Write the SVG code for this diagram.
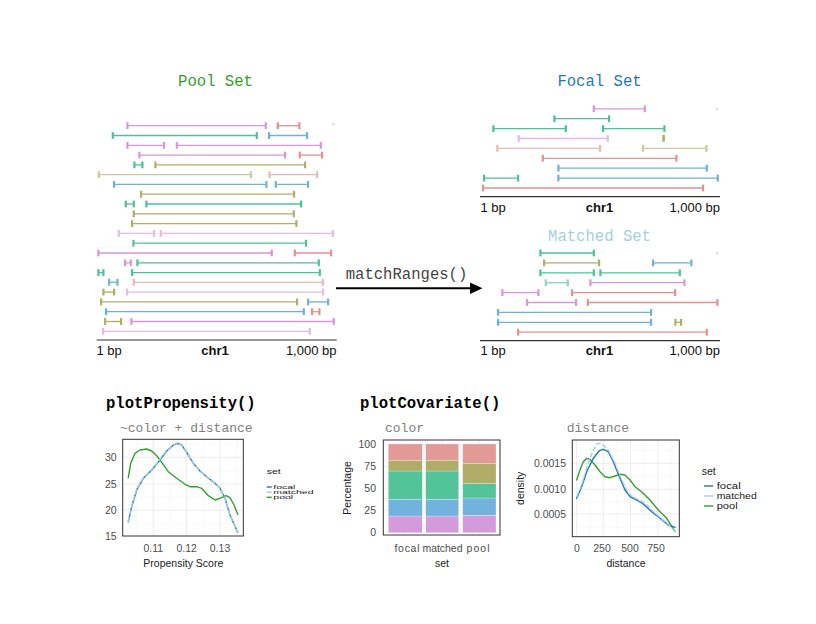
<svg xmlns="http://www.w3.org/2000/svg" width="816" height="624" viewBox="0 0 816 624">
<style>
.ttl{font-family:"Liberation Mono",monospace;font-size:15.6px}
.ttlb{font-family:"Liberation Mono",monospace;font-size:15.6px;font-weight:bold;fill:#000}
.sub{font-family:"Liberation Mono",monospace;font-size:13px;fill:#7f7f7f}
.ax{font-family:"Liberation Sans",Arial,sans-serif;font-size:13px;fill:#111}
.tk{font-family:"Liberation Sans",Arial,sans-serif;font-size:10.5px;fill:#4d4d4d}
.at{font-family:"Liberation Sans",Arial,sans-serif;font-size:10.5px;fill:#1a1a1a}
.lg{font-family:"Liberation Sans",Arial,sans-serif;font-size:10.5px;fill:#1a1a1a}
.lg2{font-family:"Liberation Sans",Arial,sans-serif;font-size:9.4px;fill:#1a1a1a}
.seg{fill:none;stroke-width:1.3}
.r{stroke:#e5918d}.o{stroke:#b2ae66}.g{stroke:#4fc097}.b{stroke:#6db2dd}.p{stroke:#d597da}
.r{marker-start:url(#cr);marker-end:url(#cr)}
.o{marker-start:url(#co);marker-end:url(#co)}
.g{marker-start:url(#cg);marker-end:url(#cg)}
.b{marker-start:url(#cb);marker-end:url(#cb)}
.p{marker-start:url(#cp);marker-end:url(#cp)}
.lt{opacity:0.65}
.axl{stroke:#333;stroke-width:1.2}
.gmaj{stroke:#ebebeb;stroke-width:0.9}
.gmin{stroke:#f5f5f5;stroke-width:0.6}
.pan{fill:none;stroke:#333;stroke-width:1}
.cur{fill:none;stroke-width:1.4;stroke-linejoin:round;stroke-linecap:round}
.fo{stroke:#1f78b4}.ma{stroke:#a6cee3;stroke-dasharray:4 3}.po{stroke:#33a02c}
.fr{fill:#e29a97}.fo2{fill:#b1ac68}.fg{fill:#52c39b}.fb{fill:#70b3dd}.fp{fill:#d39bd9}
.bar rect{stroke:#ffffff;stroke-opacity:0.5;stroke-width:0.5}
.plus{stroke:#c8c8c8;stroke-width:0.6}
</style>
<defs>
<marker id="cr" markerUnits="userSpaceOnUse" viewBox="0 0 4 8" markerWidth="4" markerHeight="8" refX="2" refY="4" orient="0"><rect x="1" y="0.6" width="2.2" height="6.8" fill="#e5918d"/></marker>
<marker id="co" markerUnits="userSpaceOnUse" viewBox="0 0 4 8" markerWidth="4" markerHeight="8" refX="2" refY="4" orient="0"><rect x="1" y="0.6" width="2.2" height="6.8" fill="#b2ae66"/></marker>
<marker id="cg" markerUnits="userSpaceOnUse" viewBox="0 0 4 8" markerWidth="4" markerHeight="8" refX="2" refY="4" orient="0"><rect x="1" y="0.6" width="2.2" height="6.8" fill="#4fc097"/></marker>
<marker id="cb" markerUnits="userSpaceOnUse" viewBox="0 0 4 8" markerWidth="4" markerHeight="8" refX="2" refY="4" orient="0"><rect x="1" y="0.6" width="2.2" height="6.8" fill="#6db2dd"/></marker>
<marker id="cp" markerUnits="userSpaceOnUse" viewBox="0 0 4 8" markerWidth="4" markerHeight="8" refX="2" refY="4" orient="0"><rect x="1" y="0.6" width="2.2" height="6.8" fill="#d597da"/></marker>
</defs>
<rect width="816" height="624" fill="#ffffff"/>

<g id="pool-set">
<text class="ttl" x="215.5" y="86" text-anchor="middle" fill="#33a02c">Pool Set</text>
<path class="plus" d="M331.8 124.3H334.8M333.3 122.8V125.8"/>
<g class="seg">
<path class="p" d="M127.3 125.7H265.7"/><path class="r" d="M277.7 125.7H299.3"/>
<path class="g" d="M112.7 135.5H256.7"/><path class="b" d="M269 135.5H307"/>
<path class="p" d="M127.3 145.3H164"/><path class="p" d="M176.7 145.3H320.7"/>
<path class="p" d="M139.3 155.1H285"/><path class="r" d="M299.7 155.1H322"/>
<path class="g" d="M134.3 164.9H142.3"/><path class="o" d="M155.3 164.9H305"/>
<path class="o lt" d="M98.7 174.7H250.7"/><path class="r lt" d="M269.3 174.7H317"/>
<path class="b" d="M114 184.4H266.3"/><path class="b" d="M275.7 184.4H308"/>
<path class="o" d="M141 194.2H294"/>
<path class="g" d="M125.7 204H133.7"/><path class="g" d="M146.3 204H301"/>
<path class="o" d="M133.7 213.8H293.7"/>
<path class="o" d="M132 223.6H296.3"/>
<path class="p lt" d="M118.7 233.4H154"/><path class="p lt" d="M160.7 233.4H332.7"/>
<path class="g" d="M133.3 243.2H306"/>
<path class="p" d="M98.3 253H271.7"/><path class="r" d="M294.7 253H331"/>
<path class="p" d="M125 262.8H130.7"/><path class="g" d="M137.3 262.8H318.7"/>
<path class="g" d="M98.3 272.6H103.3"/><path class="g" d="M132 272.6H319.7"/>
<path class="b" d="M109 282.3H117.3"/><path class="r lt" d="M133.7 282.3H322.7"/>
<path class="o" d="M103.3 292.1H114"/><path class="p lt" d="M127 292.1H323"/>
<path class="o" d="M101 301.9H297"/><path class="b" d="M308 301.9H328"/>
<path class="b" d="M106 311.7H303.7"/><path class="r" d="M312 311.7H319.3"/>
<path class="o" d="M105 321.5H121"/><path class="p" d="M131.3 321.5H333.7"/>
<path class="p lt" d="M103 331.3H309.7"/>
</g>
<line class="axl" x1="96.7" y1="340" x2="336.7" y2="340"/>
<text class="ax" x="96.5" y="354.5">1 bp</text>
<text class="ax" x="215" y="354.5" text-anchor="middle" font-weight="bold">chr1</text>
<text class="ax" x="336.5" y="354.5" text-anchor="end">1,000 bp</text>
</g>

<g id="focal-set">
<text class="ttl" x="599.5" y="86" text-anchor="middle" fill="#1f78b4">Focal Set</text>
<path class="plus" d="M715.5 109H718.5M717 107.5V110.5"/>
<g class="seg">
<path class="p" d="M593.7 108.8H644.7"/>
<path class="g" d="M554.3 118.7H609"/>
<path class="g" d="M493.3 128.6H565.7"/><path class="g" d="M603 128.6H664.3"/>
<path class="p lt" d="M518.7 138.5H607.7"/>
<path class="r lt" d="M497.3 148.4H600"/><path class="o lt" d="M643 148.4H706.3"/>
<path class="r" d="M542.7 158.3H676.3"/>
<path class="b" d="M558.3 168.2H706.7"/>
<path class="g" d="M484 178.1H518"/><path class="b" d="M558.3 178.1H717.7"/>
<path class="r" d="M483 188H703"/>
</g>
<rect x="662.3" y="134.8" width="2.6" height="7" fill="#b2ae66"/>
<line class="axl" x1="480" y1="196.7" x2="720" y2="196.7"/>
<text class="ax" x="480.5" y="211.5">1 bp</text>
<text class="ax" x="599.5" y="211.5" text-anchor="middle" font-weight="bold">chr1</text>
<text class="ax" x="720" y="211.5" text-anchor="end">1,000 bp</text>
</g>

<g id="matched-set">
<text class="ttl" x="599.5" y="240.5" text-anchor="middle" fill="#a6cee3">Matched Set</text>
<path class="plus" d="M715.8 253.3H718.8M717.3 251.8V254.8"/>
<g class="seg">
<path class="g" d="M540.3 253H593.7"/>
<path class="o" d="M544 262.9H599"/><path class="b" d="M653 262.9H691.3"/>
<path class="g" d="M540.3 272.8H593.7"/><path class="g" d="M600.3 272.8H679.7"/>
<path class="g lt" d="M545.7 282.7H567.7"/><path class="p" d="M590.3 282.7H684.3"/>
<path class="p" d="M502.3 292.6H538.3"/><path class="r" d="M572 292.6H675"/>
<path class="p" d="M527 302.5H576"/><path class="r" d="M587.7 302.5H717.3"/>
<path class="b" d="M498 312.4H651"/>
<path class="b" d="M498 322.3H651"/><path class="o" d="M675.3 322.3H681"/>
<path class="r" d="M518 332.2H706.7"/>
</g>
<line class="axl" x1="480" y1="340.7" x2="720" y2="340.7"/>
<text class="ax" x="480.5" y="354.5">1 bp</text>
<text class="ax" x="599.5" y="354.5" text-anchor="middle" font-weight="bold">chr1</text>
<text class="ax" x="720" y="354.5" text-anchor="end">1,000 bp</text>
</g>

<g id="connectors">
<line x1="336" y1="288.3" x2="472" y2="288.3" stroke="#000" stroke-width="2"/>
<polygon points="470,282.5 482.5,288.3 470,294.1" fill="#000"/>
<text class="ttl" x="406.5" y="278.5" text-anchor="middle" fill="#444">matchRanges()</text>
</g>

<g id="plot-propensity">
<text class="ttlb" x="106" y="408">plotPropensity()</text>
<text class="sub" x="120" y="432">~color + distance</text>
<g>
<line class="gmin" x1="122.7" y1="444.1" x2="243.3" y2="444.1"/>
<line class="gmin" x1="122.7" y1="470.7" x2="243.3" y2="470.7"/>
<line class="gmin" x1="122.7" y1="497.2" x2="243.3" y2="497.2"/>
<line class="gmin" x1="122.7" y1="523.3" x2="243.3" y2="523.3"/>
<line class="gmin" x1="136.7" y1="439.3" x2="136.7" y2="536"/>
<line class="gmin" x1="170" y1="439.3" x2="170" y2="536"/>
<line class="gmin" x1="203.3" y1="439.3" x2="203.3" y2="536"/>
<line class="gmin" x1="236.7" y1="439.3" x2="236.7" y2="536"/>
<line class="gmaj" x1="122.7" y1="457.3" x2="243.3" y2="457.3"/>
<line class="gmaj" x1="122.7" y1="484" x2="243.3" y2="484"/>
<line class="gmaj" x1="122.7" y1="510.3" x2="243.3" y2="510.3"/>
<line class="gmaj" x1="153.3" y1="439.3" x2="153.3" y2="536"/>
<line class="gmaj" x1="186.7" y1="439.3" x2="186.7" y2="536"/>
<line class="gmaj" x1="220" y1="439.3" x2="220" y2="536"/>
</g>
<polyline class="cur po" points="128.3,477.7 130.7,463.3 135,453.3 140,450 146.7,449 151.7,451 156.7,455.7 161.7,462.3 168.3,471.7 176.7,478.3 185,484.3 190,486.7 196.7,486.7 201.7,488.3 208.3,495.7 215,500 220,498.3 226,495.7 230,497.7 234,505 237.7,514.3"/>
<polyline class="cur fo" points="128.3,521.7 131.7,506.7 136.7,490 143.3,478.3 151.7,470 160,460 166.7,451 173.3,445 177.3,443.3 181.7,445 186.7,452.3 193.3,463.3 200,471 206.7,476.7 215,483.3 220,488.3 225,498.3 230,515 237.7,532.3"/>
<polyline class="cur ma" points="128.3,521 131.7,506 136.7,489.5 143.3,478 151.7,469.5 160,459.5 166.7,450.5 173.3,444.5 177.3,443 181.7,445 186.7,452.5 193.3,463.5 200,471 206.7,476.5 215,483 220,488.5 225,498.5 230,515 237.7,532"/>
<rect class="pan" x="122.7" y="439.3" width="120.6" height="96.7"/>
<text class="tk" x="116.7" y="461" text-anchor="end">30</text>
<text class="tk" x="116.7" y="487.8" text-anchor="end">25</text>
<text class="tk" x="116.7" y="514" text-anchor="end">20</text>
<text class="tk" x="116.7" y="540.3" text-anchor="end">15</text>
<text class="tk" x="153.3" y="552" text-anchor="middle">0.11</text>
<text class="tk" x="186.7" y="552" text-anchor="middle">0.12</text>
<text class="tk" x="220" y="552" text-anchor="middle">0.13</text>
<text class="at" x="183.3" y="566.5" text-anchor="middle">Propensity Score</text>
<text class="lg" transform="translate(266.7,473.5) scale(1,0.72)">set</text>
<line x1="266.7" y1="487" x2="271.7" y2="487" stroke="#1f78b4" stroke-width="1.4"/>
<line x1="266.7" y1="492.3" x2="271.7" y2="492.3" stroke="#a6cee3" stroke-width="1.4"/>
<line x1="266.7" y1="497.3" x2="271.7" y2="497.3" stroke="#33a02c" stroke-width="1.4"/>
<text class="lg" transform="translate(273.3,488.8) scale(1,0.56)">focal</text>
<text class="lg" transform="translate(273.3,494.1) scale(1,0.56)">matched</text>
<text class="lg" transform="translate(273.3,499.4) scale(1,0.56)">pool</text>
</g>

<g id="plot-covariate">
<text class="ttlb" x="360" y="408">plotCovariate()</text>
<text class="sub" x="385" y="432">color</text>
<g>
<line class="gmaj" x1="383.3" y1="444" x2="500" y2="444"/>
<line class="gmaj" x1="383.3" y1="466.2" x2="500" y2="466.2"/>
<line class="gmaj" x1="383.3" y1="488.4" x2="500" y2="488.4"/>
<line class="gmaj" x1="383.3" y1="510.5" x2="500" y2="510.5"/>
<line class="gmaj" x1="383.3" y1="532.7" x2="500" y2="532.7"/>
<line class="gmaj" x1="405.3" y1="440" x2="405.3" y2="535"/>
<line class="gmaj" x1="442.2" y1="440" x2="442.2" y2="535"/>
<line class="gmaj" x1="479.3" y1="440" x2="479.3" y2="535"/>
</g>
<g class="bar">
<rect class="fp" x="388.3" y="516" width="34" height="16.7"/>
<rect class="fb" x="388.3" y="499.3" width="34" height="16.7"/>
<rect class="fg" x="388.3" y="471" width="34" height="28.3"/>
<rect class="fo2" x="388.3" y="460.3" width="34" height="10.7"/>
<rect class="fr" x="388.3" y="444" width="34" height="16.3"/>
<rect class="fp" x="425.7" y="516" width="33" height="16.7"/>
<rect class="fb" x="425.7" y="499.3" width="33" height="16.7"/>
<rect class="fg" x="425.7" y="471" width="33" height="28.3"/>
<rect class="fo2" x="425.7" y="460.3" width="33" height="10.7"/>
<rect class="fr" x="425.7" y="444" width="33" height="16.3"/>
<rect class="fp" x="462.7" y="515.3" width="33.3" height="17.4"/>
<rect class="fb" x="462.7" y="498" width="33.3" height="17.3"/>
<rect class="fg" x="462.7" y="483.3" width="33.3" height="14.7"/>
<rect class="fo2" x="462.7" y="463.3" width="33.3" height="20"/>
<rect class="fr" x="462.7" y="444" width="33.3" height="19.3"/>
</g>
<rect class="pan" x="383.3" y="440" width="116.7" height="95"/>
<text class="tk" x="376" y="447.7" text-anchor="end">100</text>
<text class="tk" x="376" y="469.9" text-anchor="end">75</text>
<text class="tk" x="376" y="492.1" text-anchor="end">50</text>
<text class="tk" x="376" y="514.2" text-anchor="end">25</text>
<text class="tk" x="376" y="536.4" text-anchor="end">0</text>
<text class="tk" x="407" y="552" text-anchor="middle" textLength="25" lengthAdjust="spacing">focal</text>
<text class="tk" x="442.5" y="552" text-anchor="middle" textLength="40" lengthAdjust="spacing">matched</text>
<text class="tk" x="478" y="552" text-anchor="middle" textLength="23" lengthAdjust="spacing">pool</text>
<text class="at" x="442" y="566.5" text-anchor="middle">set</text>
<text class="at" transform="translate(351,488) rotate(-90)" text-anchor="middle">Percentage</text>
</g>

<g id="plot-distance">
<text class="sub" x="566.7" y="432">distance</text>
<g>
<line class="gmin" x1="572.3" y1="450.5" x2="679.3" y2="450.5"/>
<line class="gmin" x1="572.3" y1="476.3" x2="679.3" y2="476.3"/>
<line class="gmin" x1="572.3" y1="501.7" x2="679.3" y2="501.7"/>
<line class="gmin" x1="572.3" y1="527" x2="679.3" y2="527"/>
<line class="gmin" x1="590" y1="440" x2="590" y2="536.7"/>
<line class="gmin" x1="617" y1="440" x2="617" y2="536.7"/>
<line class="gmin" x1="644" y1="440" x2="644" y2="536.7"/>
<line class="gmin" x1="671" y1="440" x2="671" y2="536.7"/>
<line class="gmaj" x1="572.3" y1="463.3" x2="679.3" y2="463.3"/>
<line class="gmaj" x1="572.3" y1="489.3" x2="679.3" y2="489.3"/>
<line class="gmaj" x1="572.3" y1="514" x2="679.3" y2="514"/>
<line class="gmaj" x1="576.7" y1="440" x2="576.7" y2="536.7"/>
<line class="gmaj" x1="603.3" y1="440" x2="603.3" y2="536.7"/>
<line class="gmaj" x1="630.5" y1="440" x2="630.5" y2="536.7"/>
<line class="gmaj" x1="658" y1="440" x2="658" y2="536.7"/>
</g>
<polyline class="cur po" points="576.7,480 580,470 583.3,461.7 586.7,458.3 590,459.3 595,465 600,471.7 605,476.7 610,477.7 615,476 620,474.3 625,475 630,480 635,486.7 641.7,491.7 650,500 658.3,510 666.7,518.3 675,531.7"/>
<polyline class="cur fo" points="576.7,498.3 581.7,486.7 586.7,471.7 593.3,458.3 599.3,450.7 603.3,449.3 608.3,451.7 613.3,461.7 620,478.3 625,490 630,496.7 636.7,500 643.3,504 651.7,511.7 660,518.3 668.3,525 675,527.3"/>
<polyline class="cur ma" points="576.7,496.7 581.7,485 586.7,468 591.7,454 596.7,444 600,443.3 603.3,445 608.3,450 615,463.3 621.7,480 628.3,493.3 635,498.3 640,500 645,503.3 651.7,510 660,517.5 668.3,524 675,531.7"/>
<rect class="pan" x="572.3" y="440" width="107" height="96.7"/>
<text class="tk" x="566" y="467" text-anchor="end">0.0015</text>
<text class="tk" x="566" y="493" text-anchor="end">0.0010</text>
<text class="tk" x="566" y="517.7" text-anchor="end">0.0005</text>
<text class="tk" x="577" y="552" text-anchor="middle">0</text>
<text class="tk" x="602" y="552" text-anchor="middle">250</text>
<text class="tk" x="630" y="552" text-anchor="middle">500</text>
<text class="tk" x="656" y="552" text-anchor="middle">750</text>
<text class="at" x="626" y="566.5" text-anchor="middle">distance</text>
<text class="at" transform="translate(524,488.3) rotate(-90)" text-anchor="middle">density</text>
<text class="lg" x="701.7" y="475">set</text>
<line x1="704" y1="486" x2="713.3" y2="486" stroke="#1f78b4" stroke-width="1.4"/>
<line x1="704" y1="496" x2="713.3" y2="496" stroke="#a6cee3" stroke-width="1.4"/>
<line x1="704" y1="506" x2="713.3" y2="506" stroke="#33a02c" stroke-width="1.4"/>
<text class="lg2" x="716.7" y="489.3" textLength="24" lengthAdjust="spacingAndGlyphs">focal</text>
<text class="lg2" x="716.7" y="499.3" textLength="40" lengthAdjust="spacingAndGlyphs">matched</text>
<text class="lg2" x="716.7" y="509.3" textLength="21" lengthAdjust="spacingAndGlyphs">pool</text>
</g>
</svg>
